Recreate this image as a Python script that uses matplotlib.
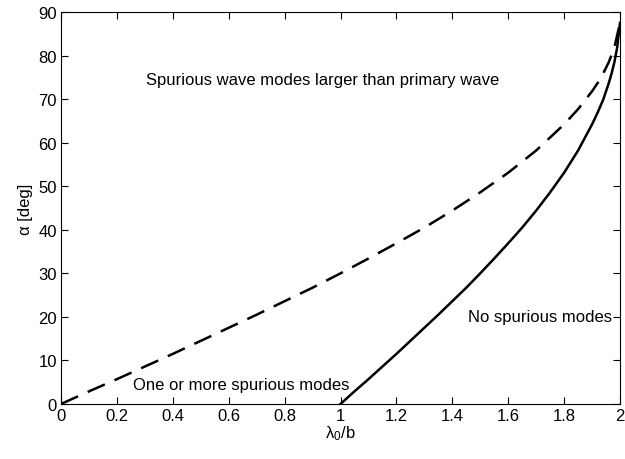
import matplotlib
matplotlib.use("Agg")
import matplotlib.pyplot as plt

plt.rcParams['font.family'] = ['Liberation Sans', 'DejaVu Sans']
plt.rcParams['font.size'] = 12
plt.rcParams['mathtext.default'] = 'regular'

# dashed boundary: spurious modes larger than primary wave
dash_x = [0, 0.1, 0.2, 0.3, 0.4, 0.5, 0.6, 0.7, 0.8, 0.9, 1.0, 1.1, 1.2, 1.3,
          1.4, 1.5, 1.6, 1.7, 1.8, 1.85, 1.9, 1.92, 1.94, 1.96, 1.98, 2.0]
dash_y = [0, 2.9, 5.7, 8.6, 11.5, 14.5, 17.5, 20.5, 23.6, 26.7, 30, 33.4, 36.9,
          40.5, 44.4, 48.6, 53.1, 58.2, 64.2, 67.7, 71.8, 73.7, 75.9, 78.5, 81.9, 87.5]

# solid boundary: no spurious modes
solid_x = [1.0, 1.05, 1.1, 1.15, 1.2, 1.25, 1.3, 1.35, 1.4, 1.45, 1.5, 1.55, 1.6,
           1.65, 1.7, 1.75, 1.8, 1.85, 1.9, 1.92, 1.94, 1.96, 1.97, 1.98, 1.99, 2.0]
solid_y = [0, 2.9, 5.7, 8.6, 11.5, 14.5, 17.5, 20.5, 23.6, 26.7, 30, 33.4, 36.9,
           40.5, 44.4, 48.6, 53.1, 58.2, 64.2, 66.9, 69.9, 73.7, 75.9, 78.5, 81.9, 87.5]

fig = plt.figure(figsize=(6.25, 4.6), dpi=100)
ax = fig.add_axes([61 / 625, 1 - 405 / 460, 559 / 625, 392 / 460])

ax.plot(dash_x, dash_y, color="black", lw=1.8, ls=(0, (7.5, 4.2)))
ax.plot(solid_x, solid_y, color="black", lw=1.8)

ax.text(0.304, 74.4, "Spurious wave modes larger than primary wave", va="center")
ax.text(0.258, 4.4, "One or more spurious modes", va="center")
ax.text(1.456, 20, "No spurious modes", va="center")

ax.set_xlim(0, 2)
ax.set_ylim(0, 90)
ax.set_xticks([0, 0.2, 0.4, 0.6, 0.8, 1, 1.2, 1.4, 1.6, 1.8, 2])
ax.set_xticklabels(["0", "0.2", "0.4", "0.6", "0.8", "1", "1.2", "1.4", "1.6", "1.8", "2"])
ax.set_yticks(range(0, 91, 10))
ax.tick_params(direction="in", top=True, right=True, length=5, width=0.8,
               labelsize=12, pad=3)
for s in ax.spines.values():
    s.set_linewidth(0.8)

ax.set_xlabel("λ$_0$/b", labelpad=0)
ax.set_ylabel("α [deg]", labelpad=4)

fig.savefig("out.png", dpi=100)
